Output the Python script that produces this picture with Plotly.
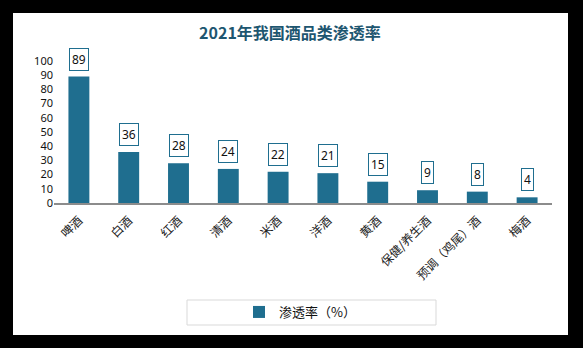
import plotly.graph_objects as go

categories = ["啤酒", "白酒", "红酒", "清酒", "米酒", "洋酒", "黄酒", "保健/养生酒", "预调（鸡尾）酒", "梅酒"]
values = [89, 36, 28, 24, 22, 21, 15, 9, 8, 4]
series_name = "渗透率（%）"
title_text = "2021年我国酒品类渗透率"

BAR = "#1f6e8f"
W, H = 583, 348
L, R, T, B = 54, 31, 61, 145
pw, ph = W - L - R, H - T - B

def px(x):
    return (x - L) / pw

def py(y):
    return (H - B - y) / ph

fig = go.Figure()
fig.add_trace(go.Bar(
    x=categories, y=values, name=series_name,
    marker=dict(color=BAR, line=dict(width=0)),
    width=0.42, showlegend=True,
))

for c, v in zip(categories, values):
    fig.add_annotation(
        x=c, y=v, text=str(v), showarrow=False, yanchor="bottom", yshift=6,
        font=dict(family="Noto Sans, Noto Sans CJK SC", size=12, color="#111"),
        bgcolor="white", bordercolor=BAR, borderwidth=1, borderpad=2,
    )

shapes = [
    dict(type="rect", xref="paper", yref="paper", x0=px(13), x1=px(568), y0=py(13), y1=py(335),
         fillcolor="white", line=dict(width=0), layer="below"),
    dict(type="rect", xref="paper", yref="paper", x0=px(187), x1=px(436), y0=py(300), y1=py(325),
         fillcolor="rgba(0,0,0,0)", line=dict(color="#d9d9d9", width=1), layer="below"),
]

fig.update_layout(
    width=W, height=H,
    margin=dict(l=L, r=R, t=T, b=B, autoexpand=False),
    paper_bgcolor="black", plot_bgcolor="white",
    shapes=shapes,
    title=dict(text=title_text, x=(290) / W, xanchor="center", y=1 - 33 / H, yanchor="middle",
               font=dict(family="Noto Sans CJK SC", size=16, color="#1d5670", weight="bold")),
    xaxis=dict(showline=True, linecolor="#8c8c8c", linewidth=1.5, ticks="outside", ticklen=4,
               tickcolor="rgba(0,0,0,0)", tickangle=-45,
               tickfont=dict(family="Noto Sans CJK SC", size=12, color="#222"), showgrid=False),
    yaxis=dict(range=[0, 100], dtick=10, showgrid=False, showline=False, zeroline=False, ticks="",
               tickfont=dict(family="Noto Sans, Noto Sans CJK SC", size=11, color="#111")),
    legend=dict(orientation="h", x=px(300), xanchor="center", y=py(312), yanchor="middle",
                bgcolor="rgba(0,0,0,0)", font=dict(family="Noto Sans CJK SC", size=13, color="#111"),
                itemsizing="constant", itemwidth=30),
    bargap=0.5,
)

fig.write_html("out.html")
